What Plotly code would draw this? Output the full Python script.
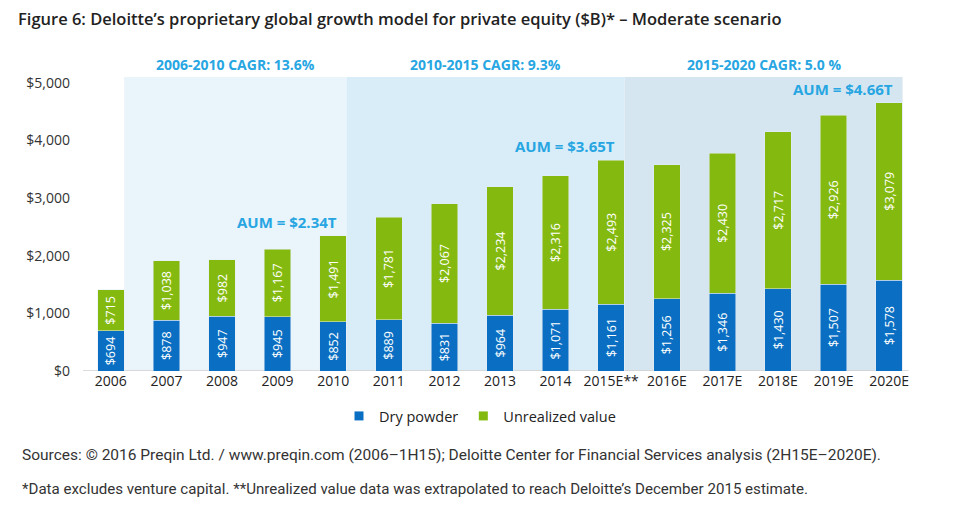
import plotly.graph_objects as go

years = ["2006", "2007", "2008", "2009", "2010", "2011", "2012", "2013", "2014",
         "2015E**", "2016E", "2017E", "2018E", "2019E", "2020E"]
dry_powder = [694, 878, 947, 945, 852, 889, 831, 964, 1071, 1161, 1256, 1346, 1430, 1507, 1578]
unrealized = [715, 1038, 982, 1167, 1491, 1781, 2067, 2234, 2316, 2493, 2325, 2430, 2717, 2926, 3079]
aum_points = ["2010", "2015E**", "2020E"]
aum_labels = ["AUM = $2.34T", "AUM = $3.65T", "AUM = $4.66T"]
cagr_labels = ["2006-2010 CAGR: 13.6%", "2010-2015 CAGR: 9.3%", "2015-2020 CAGR: 5.0 %"]
band_bounds = [(0.24, 4.24), (4.24, 9.24), (9.24, 14.24)]
band_colors = ["#EAF4FB", "#D9EDF9", "#D5E6F1"]
y_ticks = [0, 1000, 2000, 3000, 4000, 5000]
y_ticktext = ["$0", "$1,000", "$2,000", "$3,000", "$4,000", "$5,000"]

BLUE = "#0A6FC2"
GREEN = "#84BA0F"
CYAN = "#27A6E2"
FONT = "Open Sans"

W, H = 958, 505
ML, MR, MT, MB = 83, 41, 77, 134
PW, PH = W - ML - MR, H - MT - MB


def px_x(px):
    return (px - ML) / PW


def px_y(py):
    return (H - MB - py) / PH


fig = go.Figure()
fig.add_trace(go.Bar(
    x=years, y=dry_powder, name="Dry powder", marker_color=BLUE, showlegend=False,
    text=[f"${v:,}" for v in dry_powder], textposition="inside", insidetextanchor="middle",
    textangle=-90, textfont=dict(color="white", size=12.5, family=FONT), hoverinfo="skip"))
fig.add_trace(go.Bar(
    x=years, y=unrealized, name="Unrealized value", marker_color=GREEN, showlegend=False,
    text=[f"${v:,}" for v in unrealized], textposition="inside", insidetextanchor="middle",
    textangle=-90, textfont=dict(color="white", size=12.5, family=FONT), hoverinfo="skip"))
# legend proxies
fig.add_trace(go.Scatter(x=[None], y=[None], mode="markers", name="Dry powder",
                         marker=dict(symbol="square", size=9, color=BLUE)))
fig.add_trace(go.Scatter(x=[None], y=[None], mode="markers", name="Unrealized value",
                         marker=dict(symbol="square", size=9, color=GREEN)))

for (x0, x1), c in zip(band_bounds, band_colors):
    fig.add_shape(type="rect", xref="x", yref="paper", x0=x0, x1=x1, y0=0, y1=1,
                  fillcolor=c, line_width=0, layer="below")
fig.add_shape(type="line", xref="x", yref="y", x0=-0.53, x1=14.35, y0=0, y1=0,
              line=dict(color="#D0D0D0", width=1.5), layer="below")

for (x0, x1), lab in zip(band_bounds, cagr_labels):
    fig.add_annotation(x=(x0 + x1) / 2, xref="x", y=px_y(64), yref="paper", text=f"<b>{lab}</b>",
                       showarrow=False, font=dict(color=CYAN, size=14, family=FONT),
                       xanchor="center", yanchor="middle")

for cat, lab in zip(aum_points, aum_labels):
    i = years.index(cat)
    fig.add_annotation(x=i, xref="x", y=dry_powder[i] + unrealized[i], text=f"<b>{lab}</b>",
                       showarrow=False, font=dict(color=CYAN, size=15, family=FONT),
                       xanchor="right", yanchor="bottom", xshift=6, yshift=2)

fig.add_annotation(x=px_x(20), xref="paper", y=px_y(455), yref="paper",
                   text="Sources: © 2016 Preqin Ltd. / www.preqin.com (2006–1H15); Deloitte Center for Financial Services analysis (2H15E–2020E).",
                   showarrow=False, xanchor="left", yanchor="middle",
                   font=dict(size=15.5, color="#333333", family="Roboto"))
fig.add_annotation(x=px_x(20), xref="paper", y=px_y(489), yref="paper",
                   text="*Data excludes venture capital. **Unrealized value data was extrapolated to reach Deloitte’s December 2015 estimate.",
                   showarrow=False, xanchor="left", yanchor="middle",
                   font=dict(size=15.1, color="#333333", family="Roboto"))

fig.update_layout(
    width=W, height=H,
    margin=dict(l=ML, r=MR, t=MT, b=MB),
    paper_bgcolor="white", plot_bgcolor="white",
    barmode="stack", bargap=0.523,
    font=dict(family=FONT, color="#333333"),
    title=dict(text="Figure 6: Deloitte’s proprietary global growth model for private equity ($B)* – Moderate scenario",
               x=18/W, xref="container", xanchor="left", y=1-19/H, yref="container", yanchor="middle",
               font=dict(size=16.5, color="#222222", family=FONT, weight=600)),
    xaxis=dict(type="category", range=[-0.5, 14.5], showgrid=False, showline=False, zeroline=False,
               ticks="", tickfont=dict(size=14, color="#222222"), fixedrange=True),
    yaxis=dict(range=[0, 5100], tickvals=y_ticks, ticktext=y_ticktext,
               showgrid=False, showline=False, zeroline=False, ticks="",
               tickfont=dict(size=14, color="#333333"), ticklabelstandoff=12),
    legend=dict(orientation="h", x=px_x(480), xanchor="center", y=px_y(416), yanchor="middle",
                traceorder="normal",
                font=dict(size=14.5, color="#222222"), itemwidth=30, bgcolor="rgba(0,0,0,0)"),
    showlegend=True,
)

fig.write_html("out.html", config={"displayModeBar": False},
               post_script="document.body.style.margin='0';document.body.style.padding='0';")
